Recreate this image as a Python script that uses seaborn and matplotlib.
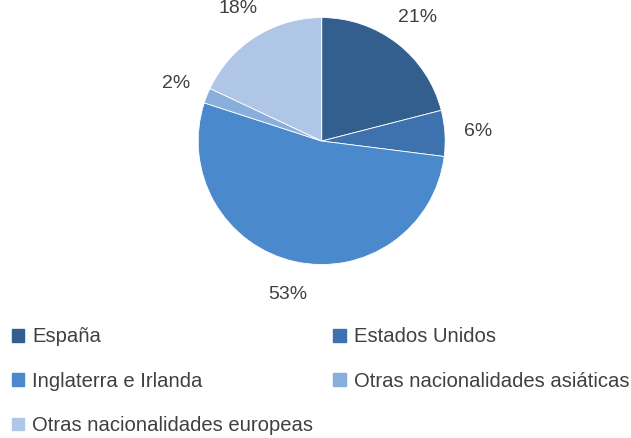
#!/usr/bin/env python

import matplotlib
matplotlib.use("Agg")
import matplotlib.pyplot as plt
import matplotlib.patches as mpatches
import seaborn as sns

# Data
categories = ["España", "Estados Unidos", "Inglaterra e Irlanda",
              "Otras nacionalidades asiáticas", "Otras nacionalidades europeas"]
shares = [21, 6, 53, 2, 18]
colors = ["#335F8F", "#3D72AE", "#4A89CB", "#8AAEDC", "#B0C6E6"]

sns.set_theme(style="white")
plt.rcParams['font.family'] = ['Liberation Sans', 'DejaVu Sans']
palette = sns.color_palette(colors)

fig = plt.figure(figsize=(6.31, 4.38), dpi=100)

# Pie axes: centre ~ (322, 141) px, radius ~ 123.5 px
ax = fig.add_axes([0.3141, 0.396, 0.3914, 0.564])
wedges, texts, autotexts = ax.pie(
    shares, colors=palette, startangle=90, counterclock=False,
    autopct='%1.0f%%', pctdistance=1.27, radius=1.0,
    wedgeprops=dict(linewidth=0.6, edgecolor='white'),
    textprops=dict(fontsize=14, color='#404040'))
ax.set_xlim(-1, 1)
ax.set_ylim(-1, 1)
ax.set_aspect('equal')
ax.axis('off')

# Legend in row-major order like the reference (matplotlib fills columns first)
handles = [mpatches.Patch(color=c, label=l) for c, l in zip(palette, categories)]
order = [0, 2, 4, 1, 3]
fig.legend([handles[i] for i in order], [categories[i] for i in order],
           ncol=2, loc='upper left', bbox_to_anchor=(-0.01, 0.294),
           frameon=False, fontsize=14.6, handlelength=0.6, handleheight=0.6,
           handletextpad=0.4, columnspacing=1.0, labelspacing=1.25,
           labelcolor='#404040')

plt.savefig("out.png", dpi=100)
